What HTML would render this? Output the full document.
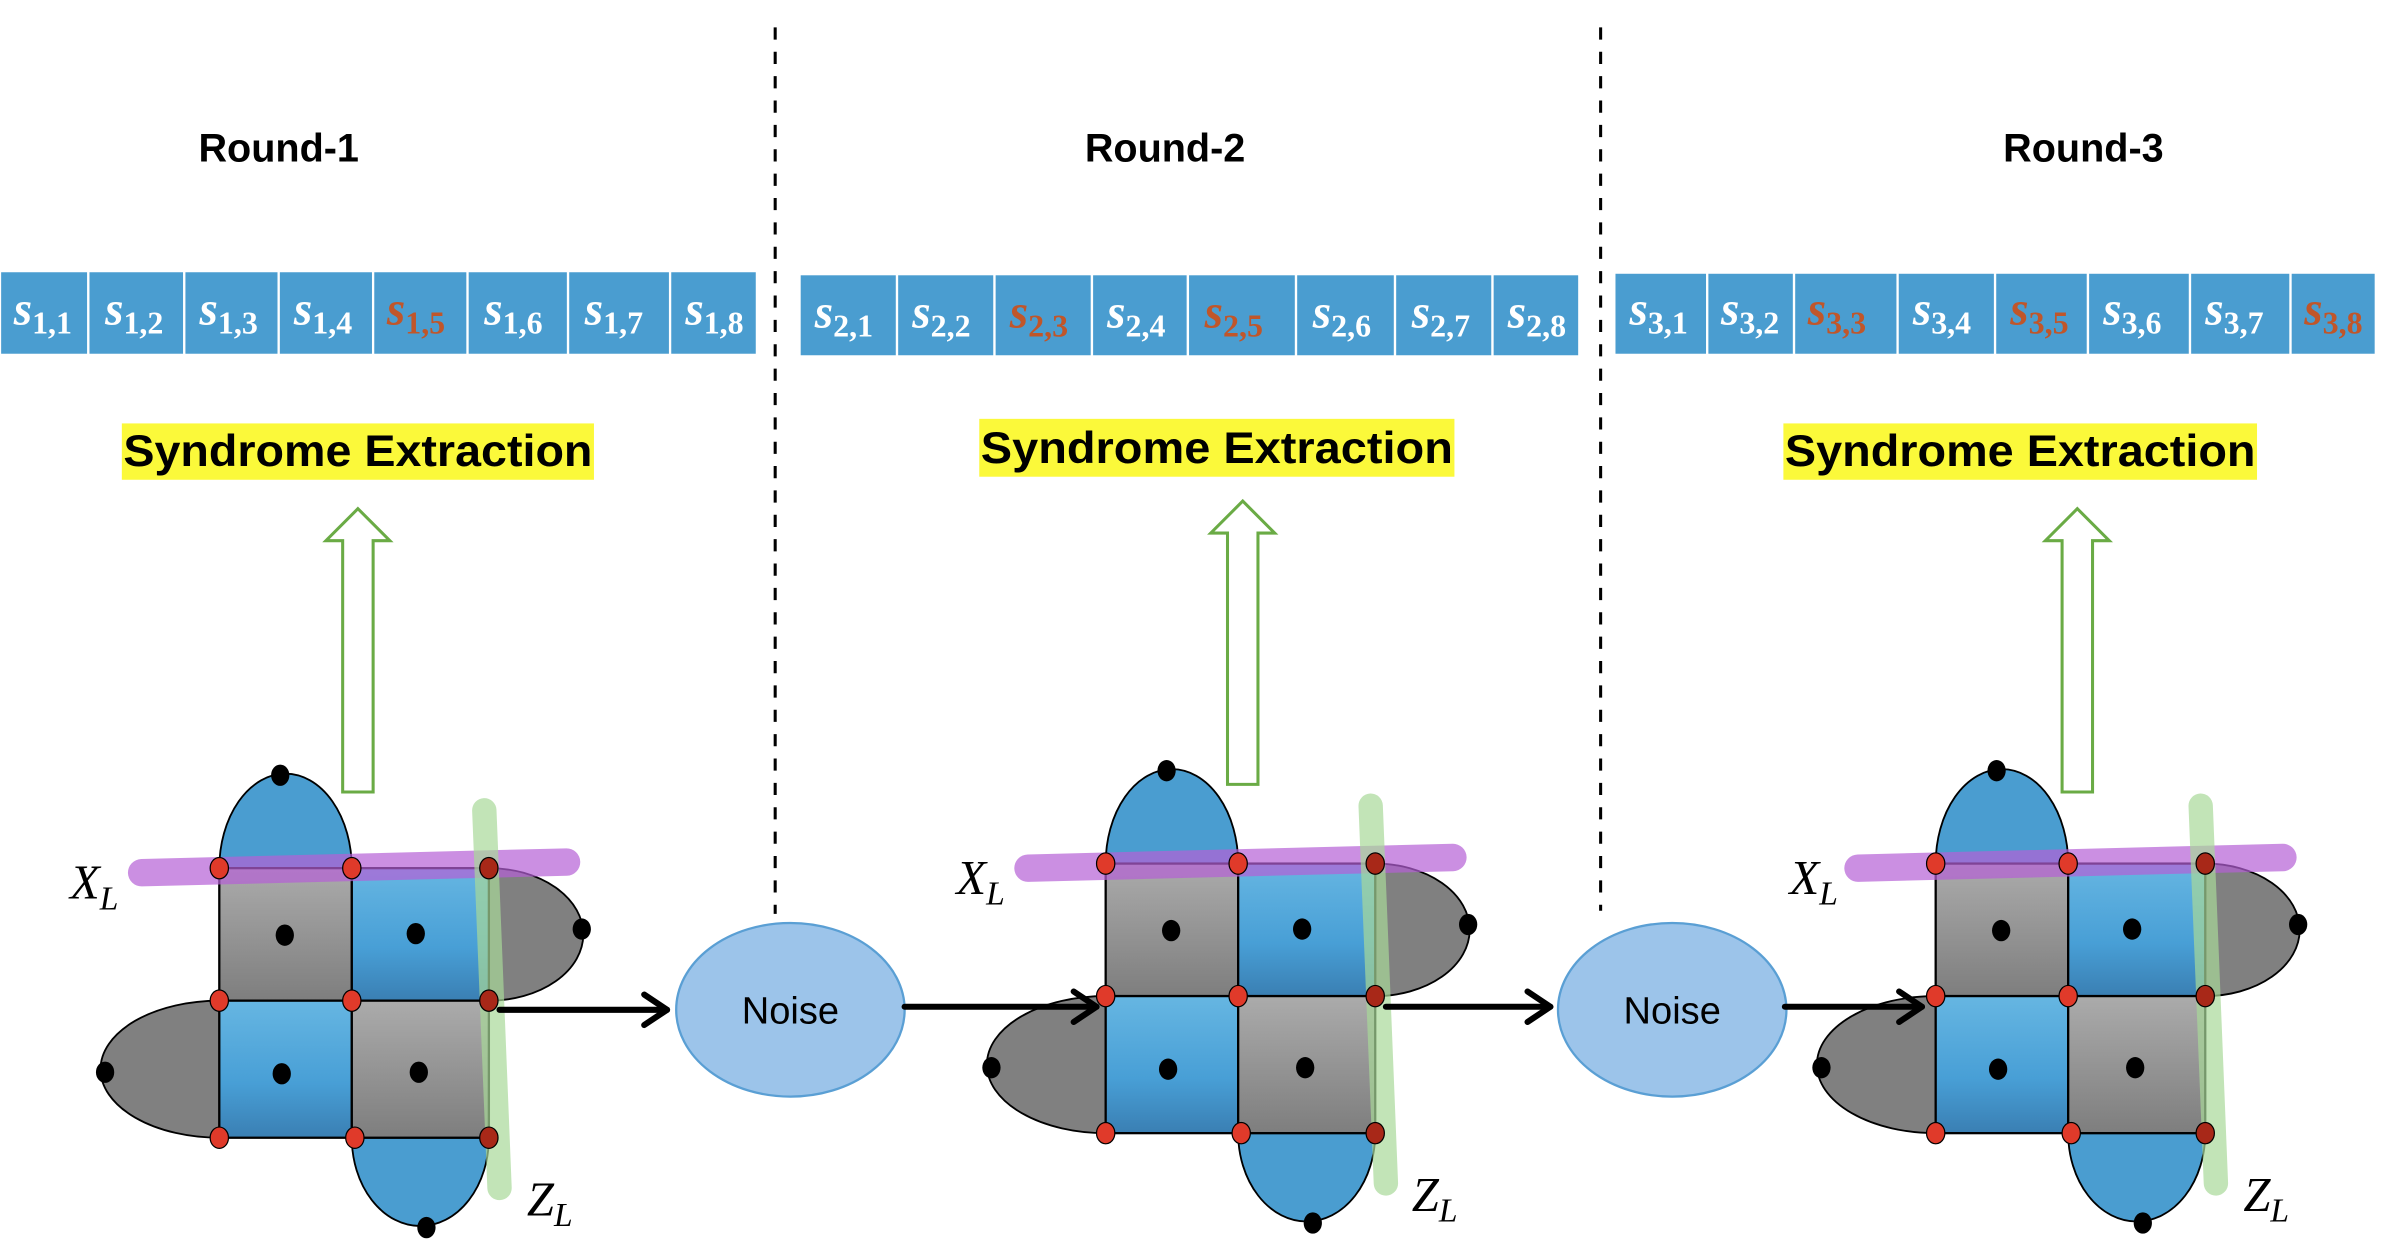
<!DOCTYPE html>
<html><head><meta charset="utf-8"><style>
html,body{margin:0;padding:0;background:#fff;width:2388px;height:1248px;overflow:hidden}
svg{display:block}
.t{font-family:"Liberation Sans",sans-serif;font-weight:bold}
.s{font-family:"Liberation Serif",serif;font-weight:bold;fill:#fff}
.r{fill:#c0562a}
.m{font-family:"Liberation Serif",serif;font-style:italic;font-size:32px}
</style></head><body>
<svg width="2388" height="1248" viewBox="0 0 1568 819.4" preserveAspectRatio="none" xmlns="http://www.w3.org/2000/svg">
<defs>
<linearGradient id="gg" x1="0" y1="0" x2="0" y2="1"><stop offset="0" stop-color="#ababab"/><stop offset="1" stop-color="#7e7e7e"/></linearGradient>
<linearGradient id="bg" x1="0" y1="0" x2="0" y2="1"><stop offset="0" stop-color="#66b6e2"/><stop offset="0.6" stop-color="#489fd6"/><stop offset="1" stop-color="#3a7fb3"/></linearGradient>
<g id="lat">
<path d="M144,570 A43.5,62 0 0 1 231,570 Z" fill="#4a9dd0" stroke="#000" stroke-width="1.2"/>
<path d="M321,570 A62,43.5 0 0 1 321,657 Z" fill="#808080" stroke="#000" stroke-width="1.2"/>
<path d="M144,657 A78,45 0 0 0 144,747 Z" fill="#808080" stroke="#000" stroke-width="1.2"/>
<path d="M231,747 A45,58 0 0 0 321,747 Z" fill="#4a9dd0" stroke="#000" stroke-width="1.2"/>
<rect x="144" y="570" width="87" height="87" fill="url(#gg)" stroke="#000" stroke-width="1.5"/>
<rect x="231" y="570" width="90" height="87" fill="url(#bg)" stroke="#000" stroke-width="1.5"/>
<rect x="144" y="657" width="87" height="90" fill="url(#bg)" stroke="#000" stroke-width="1.5"/>
<rect x="231" y="657" width="90" height="90" fill="url(#gg)" stroke="#000" stroke-width="1.5"/>
<line x1="93" y1="573" x2="372" y2="566" stroke="#b55fd6" stroke-opacity="0.7" stroke-width="18" stroke-linecap="round"/>
<line x1="318" y1="532" x2="328" y2="780" stroke="#a8d898" stroke-opacity="0.7" stroke-width="16" stroke-linecap="round"/>
<g fill="#000">
<ellipse cx="184" cy="509" rx="6" ry="7"/><ellipse cx="382" cy="610" rx="6" ry="7"/>
<ellipse cx="69" cy="704" rx="6" ry="7"/><ellipse cx="280" cy="806" rx="6" ry="7"/>
<ellipse cx="187" cy="614" rx="6" ry="7"/><ellipse cx="273" cy="613" rx="6" ry="7"/>
<ellipse cx="185" cy="705" rx="6" ry="7"/><ellipse cx="275" cy="704" rx="6" ry="7"/>
</g>
<g fill="#e03a2a" stroke="#000" stroke-width="0.8">
<ellipse cx="144" cy="570" rx="6" ry="7"/><ellipse cx="231" cy="570" rx="6" ry="7"/><ellipse cx="321" cy="570" rx="6" ry="7" fill="#a82818"/>
<ellipse cx="144" cy="657" rx="6" ry="7"/><ellipse cx="231" cy="657" rx="6" ry="7"/><ellipse cx="321" cy="657" rx="6" ry="7" fill="#a82818"/>
<ellipse cx="144" cy="747" rx="6" ry="7"/><ellipse cx="233" cy="747" rx="6" ry="7"/><ellipse cx="321" cy="747" rx="6" ry="7" fill="#a82818"/>
</g>
</g>
<g id="arr">
<path d="M225,520 L225,355 L214,355 L235,334 L256,355 L245,355 L245,520 Z" fill="#fff" stroke="#6aab45" stroke-width="2"/>
</g>
</defs>

<line x1="509" y1="18" x2="509" y2="600" stroke="#000" stroke-width="2" stroke-dasharray="8,8"/>
<line x1="1051" y1="18" x2="1051" y2="598" stroke="#000" stroke-width="2" stroke-dasharray="8,8"/>

<text class="t" x="183" y="106" font-size="26" text-anchor="middle">Round-1</text>
<text class="t" x="765" y="106" font-size="26" text-anchor="middle">Round-2</text>
<text class="t" x="1368" y="106" font-size="26" text-anchor="middle">Round-3</text>

<g stroke="#fff" stroke-width="1.5" fill="#4a9dd0">
<rect x="0" y="178" width="58" height="55"/><rect x="58" y="178" width="63" height="55"/><rect x="121" y="178" width="62" height="55"/><rect x="183" y="178" width="62" height="55"/><rect x="245" y="178" width="62" height="55"/><rect x="307" y="178" width="66" height="55"/><rect x="373" y="178" width="67" height="55"/><rect x="440" y="178" width="57" height="55"/>
<rect x="525" y="180" width="64" height="54"/><rect x="589" y="180" width="64" height="54"/><rect x="653" y="180" width="64" height="54"/><rect x="717" y="180" width="63" height="54"/><rect x="780" y="180" width="71" height="54"/><rect x="851" y="180" width="65" height="54"/><rect x="916" y="180" width="64" height="54"/><rect x="980" y="180" width="57" height="54"/>
<rect x="1060" y="179" width="61" height="54"/><rect x="1121" y="179" width="57" height="54"/><rect x="1178" y="179" width="68" height="54"/><rect x="1246" y="179" width="64" height="54"/><rect x="1310" y="179" width="61" height="54"/><rect x="1371" y="179" width="67" height="54"/><rect x="1438" y="179" width="66" height="54"/><rect x="1504" y="179" width="56" height="54"/>
</g>
<g font-size="31">
<text class="s" x="9" y="213"><tspan font-style="italic">s</tspan><tspan font-size="21" dy="6">1,1</tspan></text>
<text class="s" x="69" y="213"><tspan font-style="italic">s</tspan><tspan font-size="21" dy="6">1,2</tspan></text>
<text class="s" x="131" y="213"><tspan font-style="italic">s</tspan><tspan font-size="21" dy="6">1,3</tspan></text>
<text class="s" x="193" y="213"><tspan font-style="italic">s</tspan><tspan font-size="21" dy="6">1,4</tspan></text>
<text class="s r" x="254" y="213"><tspan font-style="italic">s</tspan><tspan font-size="21" dy="6">1,5</tspan></text>
<text class="s" x="318" y="213"><tspan font-style="italic">s</tspan><tspan font-size="21" dy="6">1,6</tspan></text>
<text class="s" x="384" y="213"><tspan font-style="italic">s</tspan><tspan font-size="21" dy="6">1,7</tspan></text>
<text class="s" x="450" y="213"><tspan font-style="italic">s</tspan><tspan font-size="21" dy="6">1,8</tspan></text>

<text class="s" x="535" y="215"><tspan font-style="italic">s</tspan><tspan font-size="21" dy="6">2,1</tspan></text>
<text class="s" x="599" y="215"><tspan font-style="italic">s</tspan><tspan font-size="21" dy="6">2,2</tspan></text>
<text class="s r" x="663" y="215"><tspan font-style="italic">s</tspan><tspan font-size="21" dy="6">2,3</tspan></text>
<text class="s" x="727" y="215"><tspan font-style="italic">s</tspan><tspan font-size="21" dy="6">2,4</tspan></text>
<text class="s r" x="791" y="215"><tspan font-style="italic">s</tspan><tspan font-size="21" dy="6">2,5</tspan></text>
<text class="s" x="862" y="215"><tspan font-style="italic">s</tspan><tspan font-size="21" dy="6">2,6</tspan></text>
<text class="s" x="927" y="215"><tspan font-style="italic">s</tspan><tspan font-size="21" dy="6">2,7</tspan></text>
<text class="s" x="990" y="215"><tspan font-style="italic">s</tspan><tspan font-size="21" dy="6">2,8</tspan></text>

<text class="s" x="1070" y="213"><tspan font-style="italic">s</tspan><tspan font-size="21" dy="6">3,1</tspan></text>
<text class="s" x="1130" y="213"><tspan font-style="italic">s</tspan><tspan font-size="21" dy="6">3,2</tspan></text>
<text class="s r" x="1187" y="213"><tspan font-style="italic">s</tspan><tspan font-size="21" dy="6">3,3</tspan></text>
<text class="s" x="1256" y="213"><tspan font-style="italic">s</tspan><tspan font-size="21" dy="6">3,4</tspan></text>
<text class="s r" x="1320" y="213"><tspan font-style="italic">s</tspan><tspan font-size="21" dy="6">3,5</tspan></text>
<text class="s" x="1381" y="213"><tspan font-style="italic">s</tspan><tspan font-size="21" dy="6">3,6</tspan></text>
<text class="s" x="1448" y="213"><tspan font-style="italic">s</tspan><tspan font-size="21" dy="6">3,7</tspan></text>
<text class="s r" x="1513" y="213"><tspan font-style="italic">s</tspan><tspan font-size="21" dy="6">3,8</tspan></text>
</g>

<rect x="80" y="278" width="310" height="37" fill="#fbf93a"/>
<rect x="643" y="275" width="312" height="38" fill="#fbf93a"/>
<rect x="1171" y="278" width="311" height="37" fill="#fbf93a"/>
<text class="t" x="81" y="306" font-size="29" textLength="308" lengthAdjust="spacingAndGlyphs">Syndrome Extraction</text>
<text class="t" x="644" y="304" font-size="29" textLength="310" lengthAdjust="spacingAndGlyphs">Syndrome Extraction</text>
<text class="t" x="1172" y="306" font-size="29" textLength="309" lengthAdjust="spacingAndGlyphs">Syndrome Extraction</text>

<use href="#arr"/>
<use href="#arr" transform="translate(581,-5)"/>
<use href="#arr" transform="translate(1129,0)"/>

<use href="#lat"/>
<use href="#lat" transform="translate(582,-3)"/>
<use href="#lat" transform="translate(1127,-3)"/>

<text class="m" x="46" y="590">X<tspan font-size="22" dy="7">L</tspan></text>
<text class="m" x="346" y="798">Z<tspan font-size="22" dy="7">L</tspan></text>
<text class="m" x="628" y="587">X<tspan font-size="22" dy="7">L</tspan></text>
<text class="m" x="927" y="795">Z<tspan font-size="22" dy="7">L</tspan></text>
<text class="m" x="1175" y="587">X<tspan font-size="22" dy="7">L</tspan></text>
<text class="m" x="1473" y="795">Z<tspan font-size="22" dy="7">L</tspan></text>

<ellipse cx="519" cy="663" rx="75" ry="57" fill="#9cc4ea" stroke="#5a9fd4" stroke-width="1.5"/>
<ellipse cx="1098" cy="663" rx="75" ry="57" fill="#9cc4ea" stroke="#5a9fd4" stroke-width="1.5"/>
<text x="519" y="672" font-family="Liberation Sans,sans-serif" font-size="25" text-anchor="middle">Noise</text>
<text x="1098" y="672" font-family="Liberation Sans,sans-serif" font-size="25" text-anchor="middle">Noise</text>

<g stroke="#000" stroke-width="4" fill="none" stroke-linecap="round" stroke-linejoin="round">
<line x1="328" y1="663" x2="438" y2="663"/><polyline points="423,653 438,663 423,673"/>
<line x1="594" y1="661" x2="720" y2="661"/><polyline points="705,651 720,661 705,671"/>
<line x1="910" y1="661" x2="1018" y2="661"/><polyline points="1003,651 1018,661 1003,671"/>
<line x1="1172" y1="661" x2="1262" y2="661"/><polyline points="1247,651 1262,661 1247,671"/>
</g>
</svg>
</body></html>
